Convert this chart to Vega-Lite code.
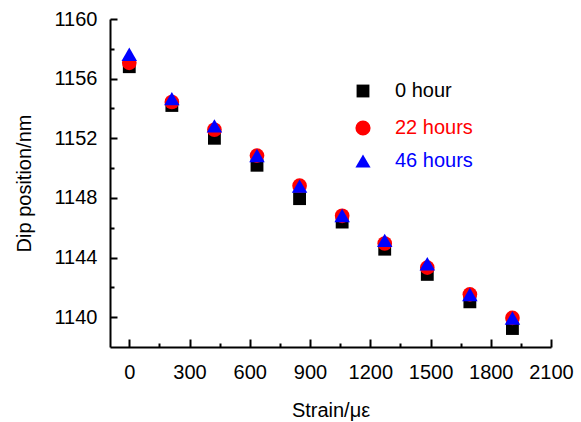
{
  "$schema": "https://vega.github.io/schema/vega-lite/v6.json",
  "autosize": "none",
  "width": 441,
  "height": 328,
  "padding": {"left": 110, "top": 19, "right": 30, "bottom": 75},
  "background": "white",
  "config": {
    "view": {"stroke": null},
    "font": "Liberation Sans",
    "axis": {
      "domainColor": "black",
      "domainWidth": 2,
      "tickColor": "black",
      "tickWidth": 2,
      "grid": false,
      "labelFont": "Liberation Sans",
      "labelFontSize": 20,
      "labelColor": "black",
      "labelOverlap": false,
      "labelFlush": false,
      "titleFont": "Liberation Sans",
      "titleFontSize": 20,
      "titleFontWeight": "normal",
      "titleColor": "black"
    },
    "legend": {
      "orient": "none",
      "title": null,
      "padding": 0,
      "labelFont": "Liberation Sans",
      "labelFontSize": 20,
      "labelOffset": 22
    }
  },
  "data": {
    "values": [
      {"strain": 0, "dip": 1156.8, "series": "0 hour"},
      {"strain": 212, "dip": 1154.2, "series": "0 hour"},
      {"strain": 424, "dip": 1152.0, "series": "0 hour"},
      {"strain": 636, "dip": 1150.19, "series": "0 hour"},
      {"strain": 848, "dip": 1147.95, "series": "0 hour"},
      {"strain": 1060, "dip": 1146.38, "series": "0 hour"},
      {"strain": 1272, "dip": 1144.56, "series": "0 hour"},
      {"strain": 1484, "dip": 1142.87, "series": "0 hour"},
      {"strain": 1696, "dip": 1141.03, "series": "0 hour"},
      {"strain": 1908, "dip": 1139.24, "series": "0 hour"},
      {"strain": 0, "dip": 1157.06, "series": "22 hours"},
      {"strain": 212, "dip": 1154.43, "series": "22 hours"},
      {"strain": 424, "dip": 1152.57, "series": "22 hours"},
      {"strain": 636, "dip": 1150.84, "series": "22 hours"},
      {"strain": 848, "dip": 1148.82, "series": "22 hours"},
      {"strain": 1060, "dip": 1146.8, "series": "22 hours"},
      {"strain": 1272, "dip": 1144.94, "series": "22 hours"},
      {"strain": 1484, "dip": 1143.32, "series": "22 hours"},
      {"strain": 1696, "dip": 1141.53, "series": "22 hours"},
      {"strain": 1908, "dip": 1139.95, "series": "22 hours"},
      {"strain": 0, "dip": 1157.64, "series": "46 hours"},
      {"strain": 212, "dip": 1154.66, "series": "46 hours"},
      {"strain": 424, "dip": 1152.83, "series": "46 hours"},
      {"strain": 636, "dip": 1150.84, "series": "46 hours"},
      {"strain": 848, "dip": 1148.79, "series": "46 hours"},
      {"strain": 1060, "dip": 1146.82, "series": "46 hours"},
      {"strain": 1272, "dip": 1145.15, "series": "46 hours"},
      {"strain": 1484, "dip": 1143.58, "series": "46 hours"},
      {"strain": 1696, "dip": 1141.52, "series": "46 hours"},
      {"strain": 1908, "dip": 1139.95, "series": "46 hours"}
    ]
  },
  "layer": [
    {
      "transform": [{"filter": "datum.series === '0 hour'"}],
      "mark": {"type": "point", "filled": true, "opacity": 1, "size": 165},
      "encoding": {
        "x": {
          "field": "strain",
          "type": "quantitative",
          "scale": {"domain": [-96, 2100], "nice": false, "zero": false},
          "axis": {
            "orient": "bottom",
            "title": "Strain/με",
            "values": [0, 300, 600, 900, 1200, 1500, 1800, 2100],
            "format": "d",
            "tickSize": -8,
            "labelPadding": 23,
            "titlePadding": 18
          }
        },
        "y": {
          "field": "dip",
          "type": "quantitative",
          "scale": {"domain": [1138, 1160], "nice": false, "zero": false},
          "axis": {
            "orient": "left",
            "title": "Dip position/nm",
            "values": [1140, 1144, 1148, 1152, 1156, 1160],
            "format": "d",
            "tickSize": -7,
            "labelPadding": 20,
            "titlePadding": 19
          }
        },
        "color": {
          "field": "series",
          "type": "nominal",
          "scale": {"domain": ["0 hour"], "range": ["#000000"]},
          "legend": {"legendX": 243, "legendY": 62, "labelColor": "#000000", "symbolSize": 165}
        },
        "shape": {
          "field": "series",
          "type": "nominal",
          "scale": {"domain": ["0 hour"], "range": ["square"]}
        }
      }
    },
    {
      "transform": [{"filter": "datum.series === '22 hours'"}],
      "mark": {"type": "point", "filled": true, "opacity": 1, "size": 215},
      "encoding": {
        "x": {"field": "strain", "type": "quantitative", "axis": null},
        "y": {"field": "dip", "type": "quantitative", "axis": null},
        "color": {
          "field": "series",
          "type": "nominal",
          "scale": {"domain": ["22 hours"], "range": ["#ff0000"]},
          "legend": {"legendX": 243, "legendY": 99, "labelColor": "#ff0000", "symbolSize": 230}
        },
        "shape": {
          "field": "series",
          "type": "nominal",
          "scale": {"domain": ["22 hours"], "range": ["circle"]}
        }
      }
    },
    {
      "transform": [{"filter": "datum.series === '46 hours'"}],
      "mark": {"type": "point", "filled": true, "opacity": 1, "size": 240},
      "encoding": {
        "x": {"field": "strain", "type": "quantitative", "axis": null},
        "y": {"field": "dip", "type": "quantitative", "axis": null},
        "color": {
          "field": "series",
          "type": "nominal",
          "scale": {"domain": ["46 hours"], "range": ["#0000ff"]},
          "legend": {"legendX": 243, "legendY": 132, "labelColor": "#0000ff", "symbolSize": 230}
        },
        "shape": {
          "field": "series",
          "type": "nominal",
          "scale": {"domain": ["46 hours"], "range": ["triangle-up"]}
        }
      }
    },
    {
      "transform": [{"filter": "datum.series === '0 hour'"}],
      "mark": {"type": "point", "filled": true, "opacity": 0},
      "encoding": {
        "x": {
          "field": "strain",
          "type": "quantitative",
          "axis": {
            "orient": "bottom",
            "values": [150, 450, 750, 1050, 1350, 1650, 1950],
            "tickSize": -4,
            "labels": false,
            "domain": false,
            "title": null
          }
        },
        "y": {
          "field": "dip",
          "type": "quantitative",
          "axis": {
            "orient": "left",
            "values": [1142, 1146, 1150, 1154, 1158],
            "tickSize": -4,
            "labels": false,
            "domain": false,
            "title": null
          }
        }
      }
    }
  ],
  "resolve": {
    "scale": {"color": "independent", "shape": "independent"},
    "axis": {"x": "independent", "y": "independent"}
  }
}
